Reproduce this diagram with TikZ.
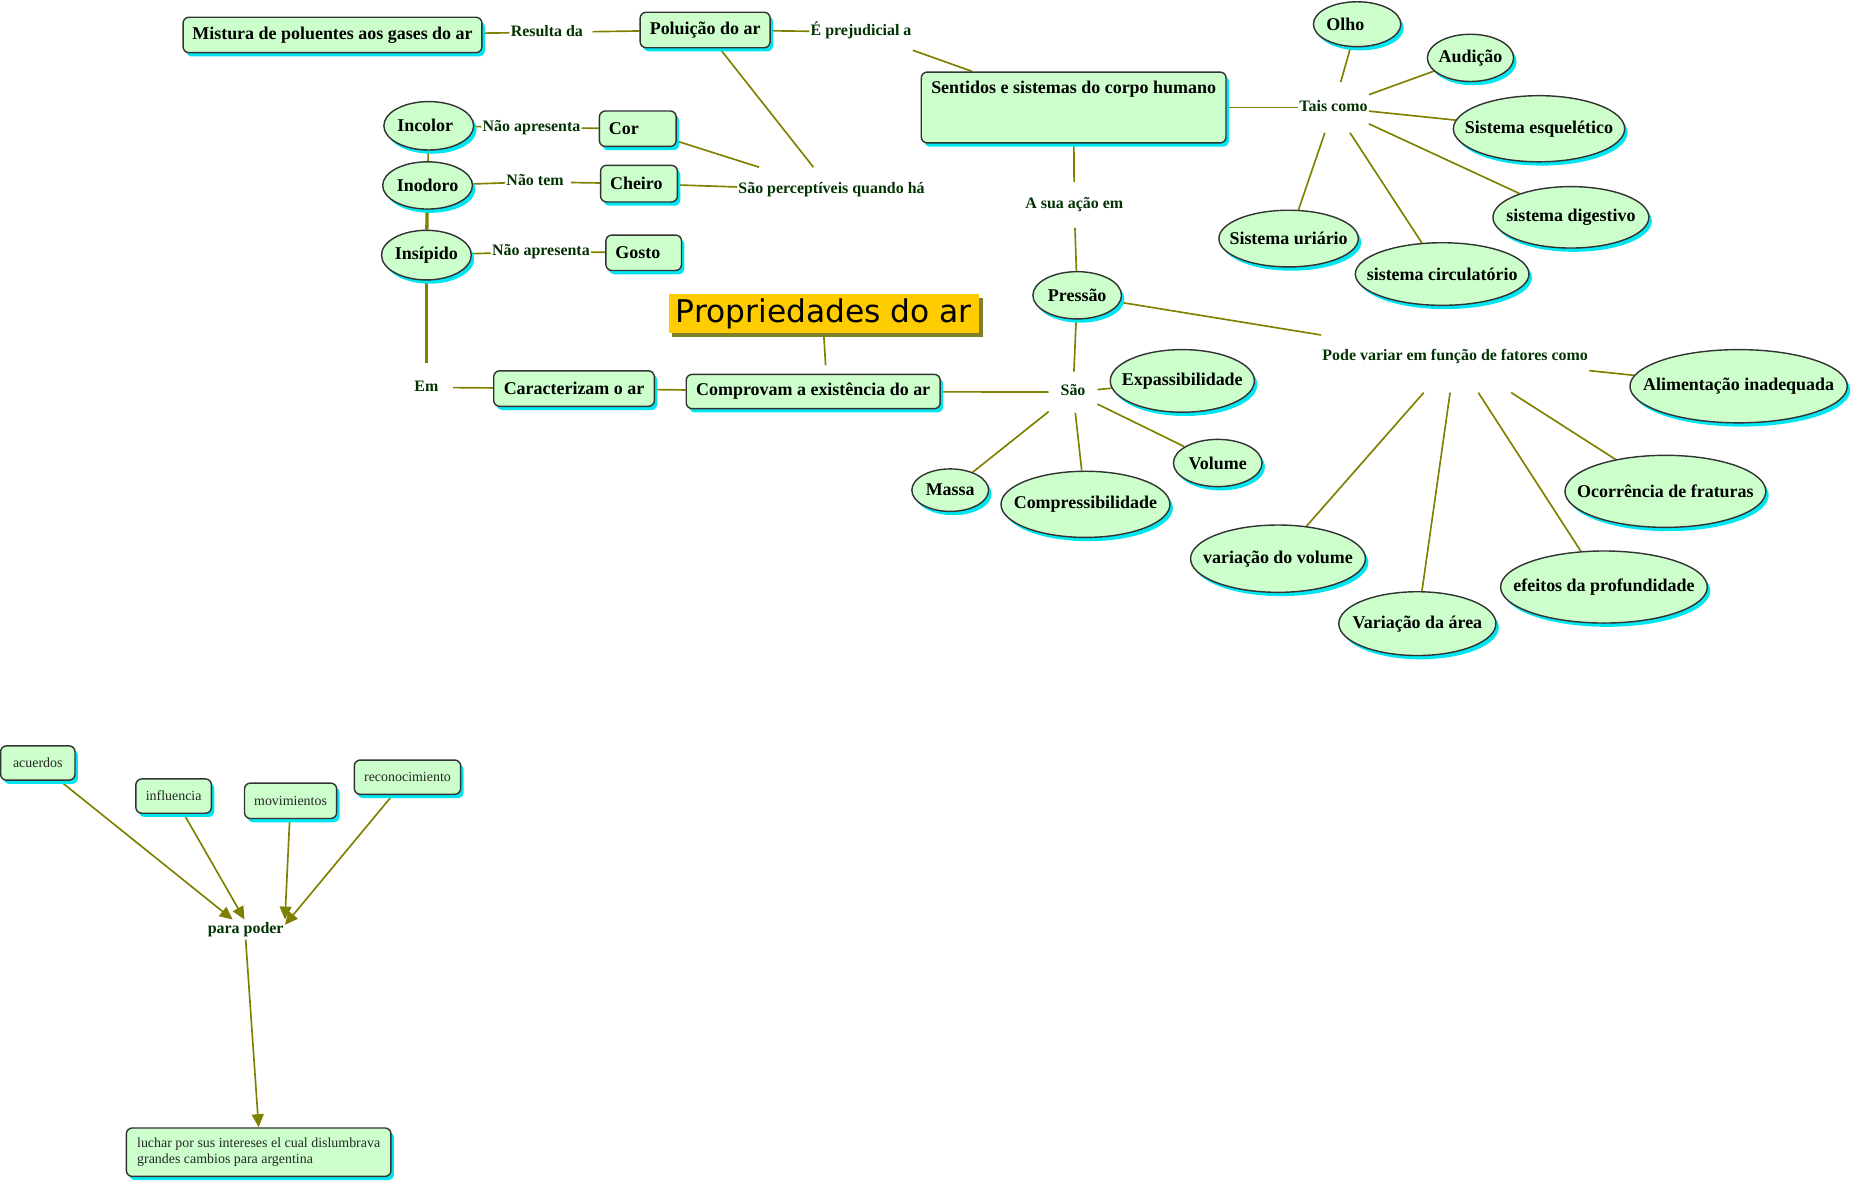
\documentclass[tikz,border=0pt]{standalone}
\usepackage{fontspec}
\setmainfont{Liberation Serif}
\newfontfamily\titlefont{DejaVu Sans}
\usetikzlibrary{shapes.geometric,shadows,arrows.meta}
\definecolor{nodefill}{RGB}{204,255,204}
\definecolor{nodeborder}{RGB}{51,51,51}
\definecolor{shcyan}{RGB}{0,230,240}
\definecolor{conline}{RGB}{128,128,0}
\definecolor{lbltext}{RGB}{0,51,0}
\definecolor{titlefill}{RGB}{255,204,0}
\definecolor{titleshadow}{RGB}{128,128,40}
\newcommand{\ovtext}[1]{\makebox[0pt]{#1}}
\pgfdeclarelayer{bg}
\pgfsetlayers{bg,main}
\tikzset{
  cshadow/.style={drop shadow={shadow xshift=2.5pt,shadow yshift=-3.2pt,fill=shcyan,opacity=1}},
  box/.style={draw=nodeborder, line width=1.2pt, fill=nodefill, rounded corners=5pt, cshadow,
    font=\fontsize{15.2}{18}\selectfont\bfseries, inner sep=0pt, align=center},
  leftbox/.style={box, align=left, inner xsep=8pt},
  oval/.style={ellipse, draw=nodeborder, line width=1.2pt, fill=nodefill, cshadow,
    font=\fontsize{15.2}{18}\selectfont\bfseries, inner sep=0pt},
  lbl/.style={font=\fontsize{13.5}{16}\selectfont\bfseries, text=lbltext, inner xsep=1pt,
    inner ysep=13pt, text height=9.5pt, text depth=3pt},
  sbox/.style={draw=nodeborder, line width=1.2pt, fill=nodefill, rounded corners=5pt, cshadow,
    font=\fontsize{11.8}{13.3}\selectfont, text={black!85}, inner sep=0pt},
  titlebox/.style={fill=titlefill, font=\titlefont\fontsize{26.5}{30}\selectfont,
    minimum width=263pt, minimum height=33pt, inner sep=0pt,
    drop shadow={shadow xshift=3pt,shadow yshift=-3.5pt,fill=titleshadow,opacity=1}},
  con/.style={draw=conline, line width=1.4pt},
  thickcon/.style={draw=conline, line width=2.8pt},
  arr/.style={con, -{Triangle[length=11pt,width=10pt]}}
}
\begin{document}
\begin{tikzpicture}[x=1pt,y=-1pt]
\begin{pgfonlayer}{bg}
\fill[white] (0,0) rectangle (1568,1000);
\end{pgfonlayer}
\useasboundingbox (0,0) rectangle (1568,1000);

% top row
\node[box, minimum width=253pt, minimum height=30pt] (mistura) at (281.5,29.6) {Mistura de poluentes aos gases do ar};
\node[lbl] (resulta) at (463,27.4) {Resulta da};
\node[box, minimum width=110pt, minimum height=30pt] (poluicao) at (597,25.4) {Poluição do ar};
\node[lbl] (prejud) at (729,27) {É prejudicial a};
\node[box, minimum width=258pt, inner ysep=6pt, text height=12pt, text depth=36pt] (sentidos) at (909,91) {Sentidos e sistemas do corpo humano};
\node[lbl, inner ysep=15pt] (tais) at (1129,91) {Tais como};

\node[oval, minimum width=74pt, minimum height=38pt] (olho) at (1149,20.5) {\ovtext{Olho\hspace*{20pt}}};
\node[oval, minimum width=73pt, minimum height=40pt] (audicao) at (1245,49) {\ovtext{Audição}};
\node[oval, minimum width=145pt, minimum height=56pt] (esquel) at (1303,109) {\ovtext{Sistema esquelético}};
\node[oval, minimum width=132pt, minimum height=52pt] (digest) at (1330,184) {\ovtext{sistema digestivo}};
\node[oval, minimum width=147pt, minimum height=53pt] (circ) at (1221,232) {\ovtext{sistema circulatório}};
\node[oval, minimum width=118pt, minimum height=48pt] (urin) at (1091,202) {\ovtext{Sistema uriário}};

\node[lbl] (asua) at (909.5,173.5) {A sua ação em};
\node[oval, minimum width=75pt, minimum height=40pt] (pressao) at (912,250) {\ovtext{Pressão}};
\node[lbl, inner ysep=24pt] (pode) at (1232,302) {Pode variar em função de fatores como};
\node[oval, minimum width=184pt, minimum height=62pt] (alim) at (1472,327) {\ovtext{Alimentação inadequada}};
\node[oval, minimum width=170pt, minimum height=61pt] (ocorr) at (1410,416) {\ovtext{Ocorrência de fraturas}};
\node[oval, minimum width=175pt, minimum height=61pt] (efeitos) at (1358,497) {\ovtext{efeitos da profundidade}};
\node[oval, minimum width=133pt, minimum height=54pt] (varea) at (1200,528) {\ovtext{Variação da área}};
\node[oval, minimum width=148pt, minimum height=57pt] (vvol) at (1082,473) {\ovtext{variação do volume}};

\node[lbl, inner xsep=10pt, inner ysep=11pt] (sao) at (908.5,332) {São};
\node[oval, minimum width=122pt, minimum height=53pt] (expass) at (1001,322.5) {\ovtext{Expassibilidade}};
\node[oval, minimum width=75pt, minimum height=40pt] (volume) at (1031,392) {\ovtext{Volume}};
\node[oval, minimum width=143pt, minimum height=56pt] (compress) at (919,427) {\ovtext{Compressibilidade}};
\node[oval, minimum width=65pt, minimum height=36pt] (massa) at (804.5,415) {\ovtext{Massa}};

\node[box, minimum width=215pt, minimum height=29pt] (comprovam) at (688.5,331.5) {Comprovam a existência do ar};
\node[titlebox] (title) at (697.5,265.5) {Propriedades do ar};
\node[box, minimum width=136pt, minimum height=30pt] (caract) at (486,329) {Caracterizam o ar};
\node[lbl, inner xsep=12pt, inner ysep=14pt] (em) at (361,328) {Em};

\node[oval, minimum width=76pt, minimum height=41pt] (incolor) at (363,106.5) {\ovtext{Incolor\hspace*{6pt}}};
\node[oval, minimum width=76pt, minimum height=40pt] (inodoro) at (362,157) {\ovtext{Inodoro}};
\node[oval, minimum width=76pt, minimum height=42pt] (insipido) at (361,216) {\ovtext{Insípido}};
\node[lbl] (naoap1) at (450,108) {Não apresenta};
\node[lbl] (naotem) at (453,154) {Não tem};
\node[lbl] (naoap2) at (458,213) {Não apresenta};
\node[leftbox, text width=49pt, minimum height=30pt] (cor) at (540,109) {Cor};
\node[leftbox, text width=49pt, minimum height=31pt] (cheiro) at (541,155.5) {Cheiro};
\node[leftbox, text width=48pt, minimum height=30pt] (gosto) at (545,214) {Gosto};
\node[lbl] (percept) at (704,161) {São perceptíveis quando há};

% bottom-left map
\node[sbox, minimum width=63pt, minimum height=29pt] (acuerdos) at (32,646) {acuerdos};
\node[sbox, minimum width=64pt, minimum height=29pt] (influencia) at (147,674) {influencia};
\node[sbox, minimum width=78pt, minimum height=30pt] (movimientos) at (246,678) {movimientos};
\node[sbox, minimum width=90pt, minimum height=29pt] (reconoc) at (345,658) {reconocimiento};
\node[lbl, inner ysep=2pt] (parapoder) at (208,787) {para poder};
\node[sbox, minimum width=224pt, minimum height=41pt, align=left] (luchar) at (219,975.5) {luchar por sus intereses el cual dislumbrava\\grandes cambios para argentina};

\begin{pgfonlayer}{bg}
\draw[con] (mistura) -- (resulta);
\draw[con, shorten <=7pt] (resulta) -- (poluicao);
\draw[con] (poluicao) -- (prejud);
\draw[con] (prejud) -- (sentidos);
\draw[con] (poluicao) -- (percept);
\draw[con] (cor) -- (percept);
\draw[con] (cheiro) -- (percept);
\draw[con] (incolor) -- (naoap1);
\draw[con] (naoap1) -- (cor);
\draw[con] (inodoro) -- (naotem);
\draw[con, shorten <=5pt] (naotem) -- (cheiro);
\draw[con] (insipido) -- (naoap2);
\draw[con] (naoap2) -- (gosto);
\draw[con] (incolor) -- (inodoro);
\draw[thickcon] (inodoro) -- (insipido);
\draw[con, line width=2pt] (insipido) -- (em);
\draw[con] (em) -- (caract);
\draw[con] (caract) -- (comprovam);
\draw[con] ([yshift=-2pt]title.south) -- ([xshift=10.5pt,yshift=7pt]comprovam.north);
\draw[con] (comprovam) -- (sao);
\draw[con] (pressao) -- (sao);
\draw[con] (sao) -- (expass);
\draw[con] (sao) -- (volume);
\draw[con] (sao) -- (compress);
\draw[con] (sao) -- (massa);
\draw[con] (sentidos) -- (asua);
\draw[con] (asua) -- (pressao);
\draw[con] (sentidos) -- (tais);
\foreach \t in {olho,audicao,esquel,digest,circ,urin} \draw[con] (tais) -- (\t);
\draw[con] (pressao) -- (pode);
\foreach \t in {alim,ocorr,efeitos,varea,vvol} \draw[con] (pode) -- (\t);

\draw[arr] (acuerdos) -- ([xshift=-11pt]parapoder.north);
\draw[arr] (influencia) -- ([xshift=-1pt]parapoder.north);
\draw[arr] (movimientos) -- (parapoder.north east);
\draw[arr] (reconoc) -- ([yshift=4pt]parapoder.east);
\draw[arr] (parapoder.south) -- (luchar.north);
\end{pgfonlayer}
\end{tikzpicture}
\end{document}
